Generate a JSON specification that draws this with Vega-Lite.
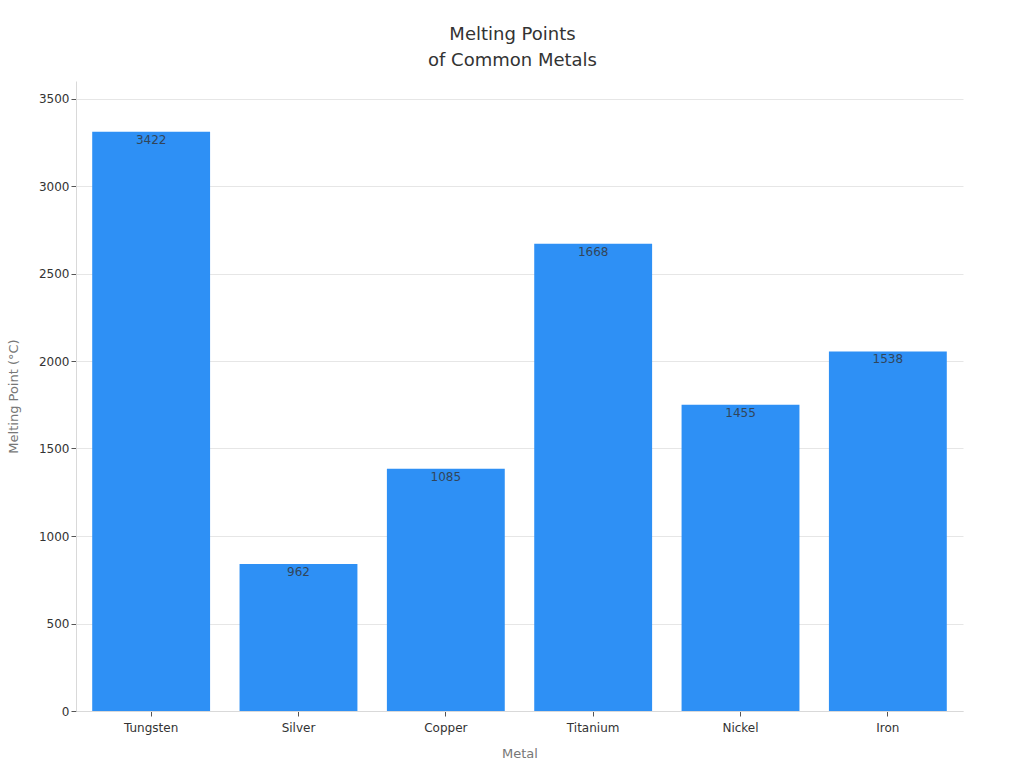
{
  "$schema": "https://vega.github.io/schema/vega-lite/v6.json",
  "width": 887,
  "height": 630,
  "autosize": {"type": "none"},
  "padding": {"left": 76, "top": 81, "right": 61, "bottom": 61},
  "background": "white",
  "config": {
    "font": "DejaVu Sans",
    "view": {"stroke": null},
    "axis": {
      "labelFont": "DejaVu Sans",
      "labelFontSize": 12,
      "labelColor": "#333333",
      "titleFont": "DejaVu Sans",
      "titleFontSize": 13,
      "titleFontWeight": "normal",
      "titleColor": "#777777",
      "domainColor": "#d9d9d9",
      "tickColor": "#555555",
      "tickSize": 5,
      "gridColor": "#e6e6e6"
    }
  },
  "title": {
    "text": ["Melting Points", "of Common Metals"],
    "font": "DejaVu Sans",
    "fontSize": 18,
    "fontWeight": "normal",
    "color": "#333333",
    "lineHeight": 26,
    "anchor": "middle",
    "dx": -7,
    "offset": 11
  },
  "data": {
    "values": [
      {"Metal": "Tungsten", "Height": 3310, "Label": 3422},
      {"Metal": "Silver", "Height": 840, "Label": 962},
      {"Metal": "Copper", "Height": 1385, "Label": 1085},
      {"Metal": "Titanium", "Height": 2670, "Label": 1668},
      {"Metal": "Nickel", "Height": 1750, "Label": 1455},
      {"Metal": "Iron", "Height": 2055, "Label": 1538}
    ]
  },
  "encoding": {
    "x": {
      "field": "Metal",
      "type": "nominal",
      "sort": null,
      "title": "Metal",
      "scale": {"paddingInner": 0.2, "paddingOuter": 0.11},
      "axis": {"labelAngle": 0, "labelPadding": 6, "titlePadding": 14, "grid": false}
    },
    "y": {
      "field": "Height",
      "type": "quantitative",
      "title": "Melting Point (°C)",
      "scale": {"domain": [0, 3600], "nice": false},
      "axis": {"values": [0, 500, 1000, 1500, 2000, 2500, 3000, 3500], "format": "d", "grid": true, "titlePadding": 18}
    }
  },
  "layer": [
    {"mark": {"type": "bar", "color": "#2e90f5"}},
    {
      "mark": {"type": "text", "baseline": "top", "dy": 3, "fontSize": 12, "color": "#333333", "opacity": 0.8},
      "encoding": {"text": {"field": "Label", "type": "quantitative", "format": "d"}}
    }
  ]
}
